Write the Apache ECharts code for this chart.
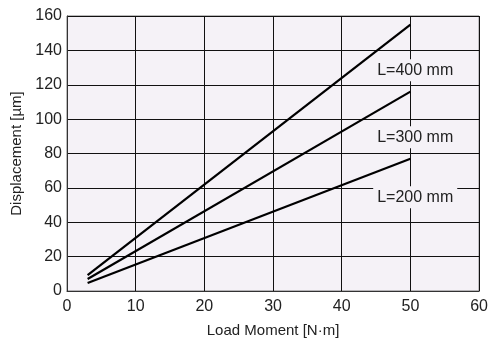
<!DOCTYPE html>
<html>
<head>
<meta charset="utf-8">
<script src="https://cdn.jsdelivr.net/npm/echarts@6/dist/echarts.min.js"></script>
<style>
  html, body { margin: 0; padding: 0; background: #fff; }
  #chart { width: 491px; height: 345px; }
</style>
</head>
<body>
<div id="chart"></div>
<script>
// load moment [N·m] at the ends of each line
const loadMoment = [3, 50];
// displacement [µm] for each arm length
const disp400 = [9.3, 155];
const disp300 = [7, 116];
const disp200 = [4.7, 77];
const seriesNames = ['L=400 mm', 'L=300 mm', 'L=200 mm'];
// where the labels sit (x, y in data units)
const labelPos = [[50.7, 128.5], [50.7, 89.5], [50.7, 54.5]];
const xTicks = [0, 10, 20, 30, 40, 50, 60];
const yTicks = [0, 20, 40, 60, 80, 100, 120, 140, 160];

const font = 'Liberation Sans Narrow, Liberation Sans, Arial, sans-serif';
const plotBg = '#f5f2f7';

const chart = echarts.init(document.getElementById('chart'));

function makeSeries(name, values, pos) {
    return {
        name: name,
        type: 'line',
        data: loadMoment.map((x, i) => [x, values[i]]),
        symbol: 'none',
        lineStyle: { color: '#000', width: 2.2 },
        z: 3,
        markPoint: {
            symbol: 'rect',
            symbolSize: 0,
            silent: true,
            data: [{ coord: pos }],
            label: {
                show: true,
                position: 'inside',
                formatter: name,
                color: '#222',
                fontFamily: font,
                fontSize: 16,
                backgroundColor: plotBg,
                padding: [3, 4]
            }
        }
    };
}

chart.setOption({
    animation: false,
    grid: {
        left: 67, right: 10, top: 16, bottom: 54,
        show: true,
        backgroundColor: plotBg,
        borderColor: '#777',
        borderWidth: 1
    },
    xAxis: {
        type: 'value',
        min: xTicks[0],
        max: xTicks[xTicks.length - 1],
        interval: 10,
        name: 'Load Moment [N·m]',
        nameLocation: 'middle',
        nameGap: 32,
        nameTextStyle: { color: '#222', fontFamily: font, fontSize: 15 },
        axisLine: { lineStyle: { color: '#333', width: 1 } },
        axisTick: { show: false },
        axisLabel: { color: '#222', fontFamily: font, fontSize: 16, margin: 8 },
        splitLine: { lineStyle: { color: '#111', width: 1 } }
    },
    yAxis: {
        type: 'value',
        min: yTicks[0],
        max: yTicks[yTicks.length - 1],
        interval: 20,
        name: 'Displacement [µm]',
        nameLocation: 'middle',
        nameGap: 42,
        nameTextStyle: { color: '#222', fontFamily: font, fontSize: 15 },
        axisLine: { show: true, lineStyle: { color: '#333', width: 1 } },
        axisTick: { show: false },
        axisLabel: { color: '#222', fontFamily: font, fontSize: 16, margin: 5 },
        splitLine: { lineStyle: { color: '#111', width: 1 } }
    },
    series: [
        makeSeries(seriesNames[0], disp400, labelPos[0]),
        makeSeries(seriesNames[1], disp300, labelPos[1]),
        makeSeries(seriesNames[2], disp200, labelPos[2])
    ]
});
</script>
</body>
</html>
